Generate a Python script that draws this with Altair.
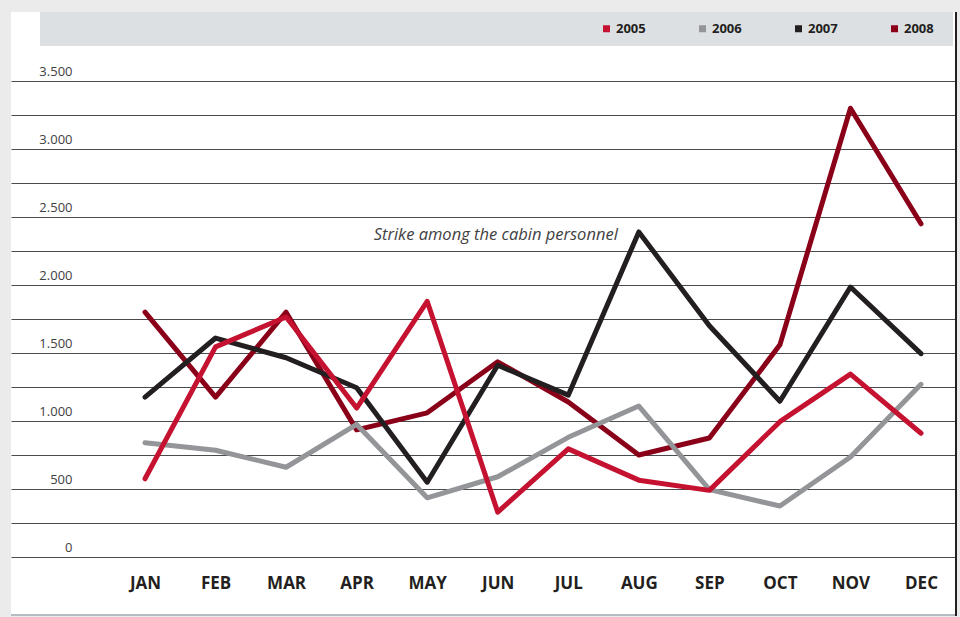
import altair as alt
import pandas as pd

months = ["JAN", "FEB", "MAR", "APR", "MAY", "JUN", "JUL", "AUG", "SEP", "OCT", "NOV", "DEC"]
years = ["2005", "2006", "2007", "2008"]
v2005 = [575, 1545, 1765, 1095, 1880, 330, 795, 565, 490, 995, 1345, 910]
v2006 = [840, 785, 660, 975, 435, 590, 880, 1110, 495, 375, 735, 1270]
v2007 = [1175, 1610, 1465, 1245, 550, 1410, 1190, 2390, 1700, 1145, 1985, 1495]
v2008 = [1800, 1175, 1800, 935, 1060, 1435, 1140, 750, 875, 1560, 3300, 2450]
colors = ["#c41230", "#939598", "#231f20", "#8a0019"]
grid_values = list(range(0, 3501, 250))
note_text = "Strike among the cabin personnel"
note_month = "AUG"
note_value = 2368

series = {"2005": v2005, "2006": v2006, "2007": v2007, "2008": v2008}
rows = []
for y, vals in series.items():
    for i, (m, v) in enumerate(zip(months, vals)):
        rows.append({"month": m, "idx": i, "year": y, "value": v})
df = pd.DataFrame(rows)

W, H = 945, 476
FONT = "Open Sans"

month_array = "[" + ",".join("'" + m + "'" for m in months) + "]"
x_enc = alt.X(
    "idx:Q",
    scale=alt.Scale(domain=[-1.8995, 11.496], nice=False, zero=False),
    axis=alt.Axis(
        title=None, domain=False, ticks=False, grid=False,
        values=list(range(len(months))),
        labelExpr=month_array + "[datum.value]",
        labelFont=FONT, labelFontSize=17, labelFontWeight="bold",
        labelColor="#231f20", labelPadding=18, labelAngle=0, zindex=1,
        labelOverlap=False, labelBound=False, labelFlush=False,
    ),
)
y_enc = alt.Y(
    "value:Q",
    scale=alt.Scale(domain=[0, 3500], nice=False, zero=True),
    axis=alt.Axis(
        title=None, domain=False, ticks=False, values=grid_values,
        grid=True, gridColor="#4a4b4d", gridWidth=1,
        labelExpr="datum.value % 500 == 0 ? replace(format(datum.value, ','), ',', '.') : ''",
        labelAlign="right", labelBaseline="middle", labelOffset=-10,
        labelPadding=-61, labelFont=FONT, labelFontSize=13, labelColor="#414042",
        labelOverlap=False, labelBound=False,
    ),
)
color_enc = alt.Color(
    "year:N",
    scale=alt.Scale(domain=years, range=colors),
    legend=alt.Legend(
        title=None, orient="none", legendX=589, legendY=-59, direction="horizontal",
        columns=4, columnPadding=45, symbolType="square", symbolSize=4,
        symbolStrokeWidth=5, labelFont=FONT, labelFontSize=13, labelFontWeight="bold",
        labelColor="#231f20", labelOffset=3, padding=0,
    ),
)

one = pd.DataFrame({"k": [0]})


def box(x, x2, y, y2, color):
    return alt.Chart(one).mark_rect(color=color).encode(
        x=alt.value(x), x2=alt.value(x2), y=alt.value(y), y2=alt.value(y2)
    )


decor = [
    box(-11, 0, -81, 536, "#ebebeb"),
    box(-11, 949, -81, -69, "#ebebeb"),
    box(946, 949, -81, 536, "#ebebeb"),
    box(-11, 949, 535, 536, "#ebebeb"),
    box(29, 942, -69, -35, "#dde0e3"),
    box(0, 946, 533, 535, "#b5bcc4"),
    box(944, 946, -69, 535, "#231f20"),
]

line_layers = []
for yr in ["2008", "2007", "2006", "2005"]:
    line_layers.append(
        alt.Chart(df[df["year"] == yr]).mark_line(
            strokeWidth=5, strokeCap="round", strokeJoin="round"
        ).encode(x=x_enc, y=y_enc, color=color_enc)
    )

note_df = pd.DataFrame({
    "month": [note_month], "idx": [months.index(note_month)],
    "value": [note_value], "t": [note_text],
})
note = alt.Chart(note_df).mark_text(
    align="right", baseline="middle", dx=-21, font=FONT, fontSize=16.5, fontStyle="italic", color="#414042"
).encode(x=x_enc, y=y_enc, text="t:N")

chart = alt.layer(*line_layers, note, *decor).properties(
    width=W, height=H,
    autosize=alt.AutoSizeParams(type="none"),
    padding={"left": 11, "top": 81, "right": 4, "bottom": 60},
    background="white",
).configure_view(stroke=None, fill="white")

chart.save("out.html", embed_options={"renderer": "svg", "actions": False})
